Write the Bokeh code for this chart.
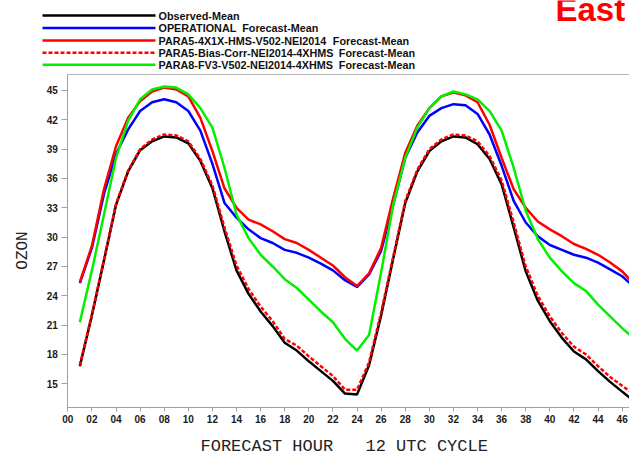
import math
from bokeh.plotting import figure
from bokeh.models import Range1d, FixedTicker, Label, Arrow, LinearAxis
from bokeh.embed import file_html
from bokeh.resources import INLINE

# ---------------- data ----------------
hours = list(range(1, 48))

observed = [16.8, 22.0, 27.6, 33.3, 36.7, 38.9, 39.8, 40.3, 40.2, 39.6,
            37.8, 35.0, 30.6, 26.6, 24.2, 22.4, 20.9, 19.2, 18.4, 17.3,
            16.3, 15.3, 14.0, 13.9, 16.9, 22.0, 27.8, 33.5, 36.7, 38.8,
            39.8, 40.3, 40.2, 39.5, 38.0, 35.4, 31.0, 26.5, 23.5, 21.4,
            19.7, 18.3, 17.5, 16.3, 15.2, 14.2, 13.2]

operational = [25.3, 28.9, 34.4, 38.5, 41.0, 42.9, 43.8, 44.1, 43.8, 42.9,
               40.9, 37.5, 33.5, 32.0, 30.8, 29.9, 29.4, 28.7, 28.4, 27.9,
               27.3, 26.6, 25.6, 24.9, 26.2, 28.6, 33.3, 38.1, 40.7, 42.4,
               43.2, 43.6, 43.5, 42.6, 40.5, 37.3, 33.7, 31.5, 30.1, 29.2,
               28.7, 28.2, 27.9, 27.4, 26.7, 26.0, 24.9]

para5 = [25.4, 29.1, 34.9, 39.3, 42.2, 43.9, 44.9, 45.3, 45.1, 44.4,
         42.2, 38.8, 35.0, 33.0, 31.8, 31.3, 30.6, 29.8, 29.4, 28.7,
         27.9, 27.1, 25.9, 25.0, 26.3, 28.9, 34.0, 38.6, 41.4, 43.2,
         44.4, 44.8, 44.5, 43.8, 41.5, 38.1, 34.9, 33.0, 31.6, 30.8,
         30.1, 29.3, 28.8, 28.2, 27.4, 26.5, 25.2]

para5_bias = [16.9, 22.1, 27.7, 33.4, 36.8, 39.0, 40.0, 40.5, 40.4, 39.8,
              38.0, 35.3, 31.0, 27.1, 24.7, 22.9, 21.4, 19.6, 18.9, 17.8,
              16.8, 15.8, 14.4, 14.4, 17.2, 22.3, 28.0, 33.7, 36.9, 39.0,
              40.0, 40.5, 40.4, 39.8, 38.3, 35.8, 31.5, 27.0, 24.0, 21.9,
              20.2, 18.8, 18.0, 16.8, 15.7, 14.8, 13.9]

para8 = [21.3, 26.6, 32.3, 38.1, 41.9, 44.1, 45.1, 45.4, 45.3, 44.6,
         43.2, 41.2, 37.1, 32.3, 29.9, 28.2, 27.0, 25.7, 24.8, 23.6,
         22.4, 21.3, 19.6, 18.4, 20.0, 26.4, 33.3, 38.1, 41.2, 43.2,
         44.4, 44.9, 44.6, 44.1, 42.9, 40.9, 37.1, 32.7, 29.8, 27.9,
         26.5, 25.3, 24.5, 23.1, 21.9, 20.7, 19.6]

series_names = ["Observed-Mean", "OPERATIONAL",
                "PARA5-4X1X-HMS-V502-NEI2014",
                "PARA5-Bias-Corr-NEI2014-4XHMS",
                "PARA8-FV3-V502-NEI2014-4XHMS"]
series_suffix = ["", "Forecast-Mean", "Forecast-Mean", "Forecast-Mean", "Forecast-Mean"]
series_values = [observed, operational, para5, para5_bias, para8]
series_colors = ["#000000", "#0000ff", "#ff0000", "#ff0000", "#00f000"]
series_dash = ["solid", "solid", "solid", "4 2", "solid"]

x_ticks = [0, 2, 4, 6, 8, 10, 12, 14, 16, 18, 20, 22, 24, 26, 28, 30, 32, 34,
           36, 38, 40, 42, 44, 46]
x_tick_labels = ["00", "02", "04", "06", "08", "10", "12", "14", "16", "18",
                 "20", "22", "24", "26", "28", "30", "32", "34", "36", "38",
                 "40", "42", "44", "46"]
y_ticks = [15, 18, 21, 24, 27, 30, 33, 36, 39, 42, 45]

# ---------------- figure ----------------
# The frame covers the whole canvas; axes are pinned at fixed data locations.
X_MIN, X_MAX = -5.585, 46.61          # canvas extent in hours
Y_MIN, Y_MAX = 7.565, 54.205          # canvas extent in ozon units
Y_BOTTOM, Y_TOP = 12.58, 46.64        # plot-box extent
p = figure(width=629, height=456, output_backend="svg", toolbar_location=None,
           x_range=Range1d(X_MIN, X_MAX), y_range=Range1d(Y_MIN, Y_MAX),
           min_border_left=0, min_border_right=0, min_border_top=0,
           min_border_bottom=0)
p.xgrid.visible = False
p.ygrid.visible = False
p.outline_line_color = None
p.background_fill_color = "white"
p.border_fill_color = "white"

axis_grey = "#a0a0a0"
xa = p.xaxis[0]
ya = p.yaxis[0]
xa.fixed_location = Y_BOTTOM
xa.bounds = (0, X_MAX)
ya.fixed_location = 0
ya.bounds = (Y_BOTTOM, Y_TOP)
for ax in (xa, ya):
    ax.axis_line_color = axis_grey
    ax.axis_line_width = 1
    ax.major_tick_line_color = axis_grey
    ax.minor_tick_line_color = None
    ax.major_tick_in = 0
    ax.major_label_text_font = "Liberation Sans"
    ax.major_label_text_font_style = "bold"
    ax.major_label_text_font_size = "10px"
    ax.major_label_text_color = "#1a1a1a"
    ax.major_label_standoff = 4

xa.ticker = FixedTicker(ticks=x_ticks)
xa.major_label_overrides = {t: l for t, l in zip(x_ticks, x_tick_labels)}
xa.major_tick_out = 4
ya.ticker = FixedTicker(ticks=y_ticks)
ya.major_tick_out = 6

# top border of the plot box
top_axis = LinearAxis(fixed_location=Y_TOP, bounds=(0, X_MAX), axis_line_color="#b4b4b4",
                      major_tick_line_color=None, minor_tick_line_color=None,
                      major_label_text_font_size="0px", ticker=FixedTicker(ticks=[]))
p.add_layout(top_axis, "above")

# series lines
for vals, col, dash in zip(series_values, series_colors, series_dash):
    p.line(hours, vals, line_color=col, line_width=2.5, line_dash=dash)

# ---------------- legend (screen units, from canvas bottom-left) ----------------
row_y = [441, 428.5, 416, 403.7, 391.7]
suffix_x = [0, 241.7, 332.3, 338.3, 338.3]
for i in range(len(series_names)):
    p.add_layout(Arrow(end=None, x_start=42, y_start=row_y[i], x_end=155, y_end=row_y[i],
                       start_units="screen", end_units="screen",
                       line_color=series_colors[i], line_width=2.5,
                       line_dash=series_dash[i]))
    p.add_layout(Label(x=158, y=row_y[i], x_units="screen", y_units="screen",
                       text=series_names[i], text_font="Liberation Sans",
                       text_font_style="bold", text_font_size="10.8px",
                       text_color="#111111", text_baseline="middle"))
    if series_suffix[i]:
        p.add_layout(Label(x=suffix_x[i], y=row_y[i], x_units="screen", y_units="screen",
                           text=series_suffix[i], text_font="Liberation Sans",
                           text_font_style="bold", text_font_size="10.8px",
                           text_color="#111111", text_baseline="middle"))

# axis titles
p.add_layout(Label(x=22.5, y=206, x_units="screen", y_units="screen", text="OZON",
                   angle=math.pi / 2, text_font="Liberation Mono", text_font_size="16px",
                   text_color="#222222", text_align="center", text_baseline="middle"))
p.add_layout(Label(x=200, y=10, x_units="screen", y_units="screen", text="FORECAST HOUR",
                   text_font="Liberation Mono", text_font_size="17px",
                   text_color="#222222", text_baseline="middle"))
p.add_layout(Label(x=365, y=10, x_units="screen", y_units="screen", text="12 UTC CYCLE",
                   text_font="Liberation Mono", text_font_size="17px",
                   text_color="#222222", text_baseline="middle"))

# red region title (cut at top-right)
p.add_layout(Label(x=555, y=447, x_units="screen", y_units="screen", text="East",
                   text_font="Liberation Sans", text_font_style="bold",
                   text_font_size="33px", text_color="#ff0000",
                   text_baseline="middle"))

open("out.html", "w").write(file_html(p, INLINE))
